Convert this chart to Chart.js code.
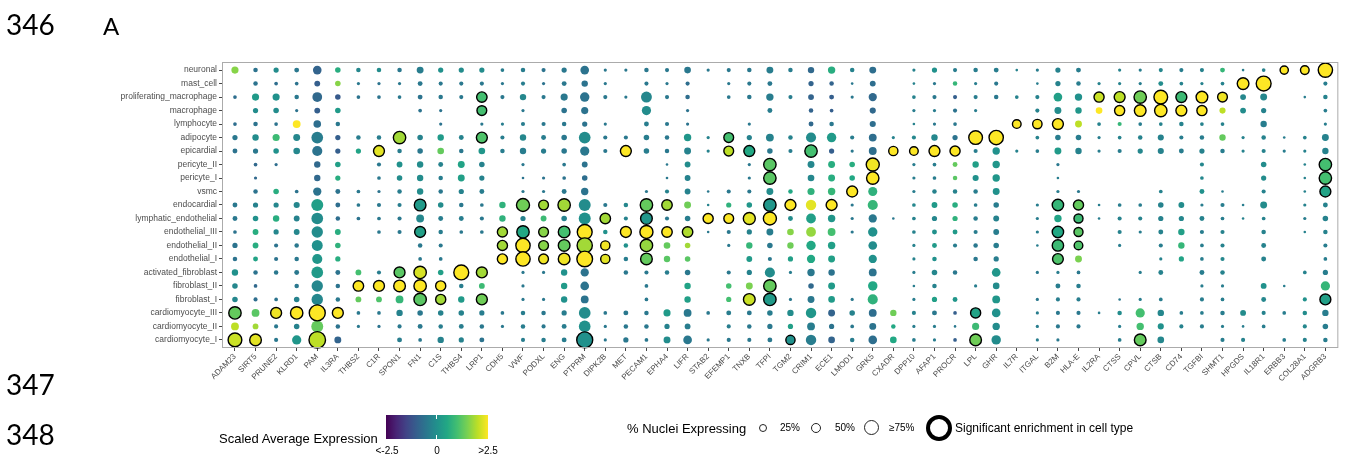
<!DOCTYPE html>
<html>
<head>
<meta charset="utf-8">
<script src="https://cdn.jsdelivr.net/npm/chart.js@4.4.1/dist/chart.umd.min.js"></script>
<style>
  body { margin: 0; background: #fff; width: 1348px; height: 455px; overflow: hidden; position: relative;
         font-family: 'Liberation Sans', Arial, sans-serif; }
  #wrap { position: absolute; left: 0; top: 0; width: 1348px; height: 455px; }
  .t { position: absolute; white-space: nowrap; color: #000; line-height: 1; }
  .num { font-family: Lato, 'Open Sans', sans-serif; font-size: 28px; }
  .lg { font-size: 13px; line-height: 13px; }
  .sm { font-size: 10px; line-height: 10px; }
  .ring { position: absolute; border: 1px solid #222; border-radius: 50%; box-sizing: border-box; }
  #bar { position: absolute; left: 386px; top: 415px; width: 102px; height: 24px; }
  .wtick { position: absolute; left: 50px; width: 1px; height: 4px; background: #fff; }
</style>
</head>
<body>
<div id="wrap"><canvas id="dotplot" width="1348" height="455"></canvas></div>

<div class="t num" style="left:6px;top:10px;">346</div>
<div class="t" style="left:103px;top:14px;font-family:Lato,'Open Sans',sans-serif;font-size:24px;">A</div>
<div class="t num" style="left:6px;top:370px;">347</div>
<div class="t num" style="left:6px;top:420px;">348</div>

<div class="t lg" style="left:219px;top:432px;">Scaled Average Expression</div>
<div id="bar"><div class="wtick" style="top:0"></div><div class="wtick" style="bottom:0"></div></div>
<div class="t sm" style="left:387px;top:446px;transform:translateX(-50%);">&lt;-2.5</div>
<div class="t sm" style="left:437px;top:446px;transform:translateX(-50%);">0</div>
<div class="t sm" style="left:488px;top:446px;transform:translateX(-50%);">&gt;2.5</div>

<div class="t lg" style="left:627px;top:422px;">% Nuclei Expressing</div>
<div class="ring" style="left:759px;top:424px;width:8px;height:8px;"></div>
<div class="t sm" style="left:780px;top:423px;">25%</div>
<div class="ring" style="left:811px;top:423px;width:10px;height:10px;"></div>
<div class="t sm" style="left:835px;top:423px;">50%</div>
<div class="ring" style="left:864px;top:420px;width:15px;height:15px;"></div>
<div class="t sm" style="left:889px;top:423px;">≥75%</div>
<div class="ring" style="left:926px;top:415px;width:26px;height:26px;border:4px solid #000;"></div>
<div class="t" style="left:955px;top:422px;font-size:12px;line-height:12px;">Significant enrichment in cell type</div>

<script>
const genes = ['ADAM23','SIRT5','PRUNE2','KLRD1','PAM','IL3RA','THBS2','C1R','SPON1','FN1',
  'C1S','THBS4','LRP1','CDH5','VWF','PODXL','ENG','PTPRM','DIPK2B','MET',
  'PECAM1','EPHA4','LIFR','STAB2','EFEMP1','TNXB','TFPI','TGM2','CRIM1','ECE1',
  'LMOD1','GRK5','CXADR','DPP10','AFAP1','PROCR','LPL','GHR','IL7R','ITGAL',
  'B2M','HLA-E','IL2RA','CTSS','CPVL','CTSB','CD74','TGFBI','SHMT1','HPGDS',
  'IL18R1','ERBB3','COL28A1','ADGRB3'];

// top to bottom
const cellTypes = ['neuronal','mast_cell','proliferating_macrophage','macrophage','lymphocyte',
  'adipocyte','epicardial','pericyte_II','pericyte_I','vsmc',
  'endocardial','lymphatic_endothelial','endothelial_III','endothelial_II','endothelial_I',
  'activated_fibroblast','fibroblast_II','fibroblast_I',
  'cardiomyocyte_III','cardiomyocyte_II','cardiomyocyte_I'];

// % nuclei expressing, one row per gene, values in cellTypes order (0 = not drawn)
const pctExpressing = [
  [15,0,4,0,4, 8,7,0,0,0, 7,7,4,8,6, 12,9,9, 45,18,55],
  [6,6,15,8,6, 12,8,4,3,6, 8,9,10,10,7, 6,4,5, 18,10,40],
  [8,4,15,9,4, 15,9,3,0,9, 8,12,8,5,5, 6,0,4, 35,5,5],
  [7,4,6,3,18, 14,13,0,0,4, 11,10,10,6,6, 7,6,9, 45,9,25],
  [22,10,28,10,17, 40,30,12,12,20, 42,40,38,35,30, 40,38,38, 75,42,80],
  [9,9,9,9,6, 8,8,9,8,7, 7,6,10,9,8, 7,6,6, 35,6,14],
  [6,3,4,0,0, 6,8,0,0,4, 4,4,0,0,0, 10,32,10, 4,3,0],
  [6,3,4,0,0, 6,35,5,4,3, 5,4,4,0,0, 5,35,10, 4,3,0],
  [6,3,4,0,0, 45,6,10,9,6, 5,5,5,0,0, 35,40,18, 12,5,7],
  [14,7,7,4,0, 9,9,12,12,12, 40,18,35,6,4, 45,45,45, 9,7,4],
  [8,5,6,3,3, 12,13,7,6,6, 9,7,6,5,4, 9,30,30, 9,6,12],
  [8,5,5,0,0, 7,6,14,14,8, 6,7,4,0,0, 65,6,12, 9,7,8],
  [8,5,32,28,3, 35,13,9,8,7, 4,5,4,0,0, 35,10,35, 8,6,7],
  [4,3,5,0,3, 5,6,0,0,0, 12,12,30,30,30, 0,0,0, 4,3,0],
  [6,5,12,3,5, 12,12,3,2,3, 50,8,45,60,60, 3,3,3, 6,6,5],
  [5,3,5,0,5, 7,8,0,3,3, 28,10,28,28,28, 3,0,3, 6,5,6],
  [8,7,15,9,6, 9,9,4,4,7, 45,9,40,40,40, 12,12,12, 8,7,7],
  [22,12,26,15,8, 40,25,10,9,16, 42,42,65,68,72, 20,22,18, 40,40,75],
  [3,3,5,0,3, 5,5,0,0,0, 5,32,6,25,25, 0,0,0, 4,3,3],
  [3,0,3,0,0, 5,35,0,0,0, 6,5,35,6,6, 6,0,0, 7,6,8],
  [6,5,35,25,7, 9,9,0,0,3, 45,40,50,45,40, 5,4,4, 6,6,4],
  [5,3,5,0,5, 6,6,2,2,5, 32,5,32,13,12, 6,0,0, 15,8,14],
  [13,5,6,3,3, 16,14,10,10,10, 14,9,32,9,9, 9,12,12, 18,10,22],
  [3,0,0,0,0, 3,3,0,0,2, 2,30,2,0,0, 0,0,0, 4,0,3],
  [5,3,4,0,0, 28,28,0,0,5, 8,28,5,3,0, 5,9,8, 7,5,5],
  [6,5,6,0,3, 8,35,3,3,5, 9,42,8,12,10, 8,14,40, 7,6,5],
  [14,7,16,7,0, 18,9,45,45,14, 45,50,14,9,5, 30,45,45, 9,8,7],
  [6,0,5,0,0, 6,5,0,0,6, 35,7,13,12,8, 3,0,3, 12,8,25],
  [12,8,10,6,7, 30,45,14,13,15, 32,28,28,26,20, 16,9,14, 32,18,32],
  [16,6,7,4,6, 26,8,14,14,16, 35,16,18,16,14, 12,14,13, 14,8,13],
  [6,2,3,0,0, 5,3,9,9,35, 3,3,3,0,0, 0,0,3, 9,4,6],
  [14,10,20,11,11, 18,18,50,45,24, 30,20,26,22,20, 18,26,30, 18,14,22],
  [0,0,0,0,0, 3,25,0,0,0, 0,2,0,0,0, 0,0,0, 12,6,13],
  [3,2,4,3,2, 5,22,3,3,3, 4,4,4,3,3, 3,2,3, 5,3,4],
  [8,3,5,3,3, 12,35,4,4,6, 10,8,7,7,6, 9,6,8, 7,3,3],
  [5,6,5,5,4, 8,30,7,6,6, 9,8,7,5,0, 6,0,7, 4,2,4],
  [6,3,5,3,0, 55,5,12,11,6, 4,6,5,6,6, 0,3,0, 30,15,40],
  [7,5,6,0,0, 60,16,16,16,14, 9,10,10,9,8, 22,13,18, 22,16,26],
  [2,0,4,0,22, 0,3,0,0,0, 0,0,0,0,0, 0,0,0, 0,0,0],
  [3,2,5,5,26, 4,4,0,0,0, 3,3,3,2,0, 3,0,3, 3,3,3],
  [8,8,22,14,35, 9,14,3,2,3, 38,16,38,38,34, 3,7,5, 5,5,3],
  [7,6,16,12,14, 9,12,0,0,3, 30,24,24,22,14, 4,6,5, 5,5,0],
  [0,3,30,13,4, 3,3,0,0,0, 2,2,0,0,0, 0,0,0, 2,0,0],
  [3,3,35,30,5, 4,5,0,0,0, 4,5,5,3,0, 0,0,2, 6,3,4],
  [3,3,45,40,4, 6,8,0,0,0, 4,5,3,0,0, 3,0,3, 25,16,40],
  [5,7,55,45,4, 11,11,0,0,4, 9,8,7,5,3, 7,0,4, 12,11,13],
  [5,4,35,35,6, 5,7,0,0,0, 10,8,12,12,8, 0,0,0, 4,5,0],
  [5,3,40,30,4, 6,8,5,4,7, 3,7,5,4,4, 7,3,5, 4,5,0],
  [7,4,28,11,4, 12,6,0,0,2, 5,4,5,5,5, 6,3,4, 6,3,5],
  [2,40,10,10,0, 3,3,0,0,0, 2,2,0,0,0, 0,0,0, 10,2,5],
  [4,65,14,8,12, 6,5,9,8,5, 14,4,6,7,7, 0,10,7, 5,4,0],
  [20,0,0,0,0, 2,3,0,0,0, 0,0,0,0,0, 0,2,0, 4,0,4],
  [22,0,2,0,0, 4,3,2,2,2, 3,3,2,0,0, 4,0,5, 6,5,5],
  [60,5,6,4,3, 14,12,45,45,35, 7,9,6,5,4, 8,25,35, 12,9,6]
];

// scaled average expression, same layout
const scaledExpression = [
  [1.6,0,-0.7,0,-0.7, -0.5,-0.6,0,0,0, -0.5,-0.5,-0.6,-0.6,-0.6, 0,-0.2,-0.2, 1.3,2.0,2.1],
  [-0.6,-0.6,0.2,-0.1,-0.6, -0.1,-0.5,-0.8,-0.8,-0.6, -0.3,0,0.6,0.6,0.4, -0.6,-0.8,-0.7, 1.2,1.8,2.3],
  [-0.1,-0.7,0,-0.1,-0.6, 0.9,0,-0.7,0,0.6, -0.2,0.6,-0.2,-0.6,-0.6, -0.5,0,-0.6, 2.4,-0.5,-0.5],
  [-0.5,-0.6,-0.5,-0.6,2.5, -0.2,-0.2,0,0,-0.6, -0.2,-0.3,-0.2,-0.5,-0.5, -0.5,-0.5,-0.3, 2.5,-0.3,0.1],
  [-0.9,-1.0,-0.8,-1.0,-0.7, -0.4,-0.6,-0.8,-0.8,-0.6, 0.3,-0.1,-0.1,0,0.1, 0.2,-0.2,-0.2, 2.5,1.3,2.0],
  [0.6,1.6,-1.1,0.2,-0.5, -1.0,-1.0,0.3,0.6,-0.6, -0.7,-0.7,0.6,0.7,0.6, -0.6,-0.6,-0.5, 2.5,-0.6,-0.9],
  [-0.2,-0.5,-0.6,0,0, -0.4,0.4,0,0,-0.5, -0.5,-0.6,0,0,0, 1.0,2.5,1.3, -0.5,-0.5,0],
  [-0.1,-0.6,-0.6,0,0, -0.4,2.3,-0.5,-0.5,-0.6, -0.5,-0.5,-0.5,0,0, -0.4,2.5,1.1, -0.5,-0.6,0],
  [-0.5,-0.5,-0.5,0,0, 1.8,-0.4,0,-0.1,-0.4, -0.4,-0.5,-0.5,0,0, 1.2,2.5,0.8, -0.3,-0.5,-0.4],
  [-0.4,-0.5,-0.6,-0.6,0, -0.3,-0.5,-0.1,-0.1,-0.1, 0.2,-0.2,0.3,-0.5,-0.5, 2.2,2.5,1.2, -0.5,-0.5,-0.5],
  [0,-0.5,-0.5,-0.6,-0.6, 0.2,1.3,-0.3,-0.4,-0.5, -0.1,-0.4,-0.4,-0.5,-0.5, 0.3,2.5,1.8, -0.3,-0.4,-0.3],
  [-0.1,-0.5,-0.5,0,0, -0.3,-0.5,0.4,0.3,-0.3, -0.5,-0.4,-0.5,0,0, 2.5,-0.4,0.2, -0.3,-0.4,-0.3],
  [-0.1,-0.5,1.0,1.0,-0.5, 1.1,0.1,-0.3,-0.3,-0.4, -0.5,-0.5,-0.5,0,0, 1.8,0.9,1.4, -0.4,-0.5,-0.6],
  [-0.4,-0.5,-0.5,0,-0.4, -0.4,-0.4,0,0,0, 0.7,0.7,1.8,1.8,2.5, 0,0,0, -0.5,-0.5,0],
  [-0.4,-0.4,-0.2,-0.5,-0.4, -0.2,-0.4,-0.5,-0.6,-0.5, 1.4,-0.3,0.5,2.5,2.5, -0.5,-0.5,-0.5, -0.4,-0.4,-0.4],
  [-0.6,-0.6,-0.5,0,-0.5, -0.4,-0.4,0,-0.6,-0.5, 1.8,0.9,1.6,1.6,2.4, -0.5,0,-0.5, -0.5,-0.5,-0.4],
  [-0.5,-0.5,-0.5,-0.6,-0.5, -0.5,-0.5,-0.5,-0.6,-0.5, 1.8,-0.3,1.0,1.3,2.4, 0,0.2,0, -0.4,-0.4,-0.4],
  [-0.6,-0.6,-0.6,-0.6,-0.6, -0.1,-0.5,-0.6,-0.7,-0.6, -0.1,0,2.5,1.8,2.5, -0.6,-0.6,-0.6, -0.1,0,0],
  [-0.5,-0.5,-0.5,0,-0.5, -0.5,-0.5,0,0,0, -0.5,1.8,0,2.4,2.3, 0,0,0, -0.5,-0.5,-0.5],
  [-0.5,0,-0.5,0,0, -0.5,2.5,0,0,0, -0.2,-0.3,2.5,0,-0.4, -0.5,0,0, -0.5,-0.5,-0.5],
  [-0.5,-0.5,-0.2,-0.1,-0.4, -0.4,-0.4,0,0,-0.5, 1.3,0.1,2.5,1.7,1.3, -0.5,-0.5,-0.5, -0.5,-0.5,-0.5],
  [-0.5,-0.5,-0.5,0,-0.5, -0.5,-0.5,-0.5,-0.5,-0.3, 1.8,-0.5,2.5,1.3,1.2, -0.4,0,0, 0.2,-0.3,-0.1],
  [-0.5,-0.7,-0.7,-0.6,-0.6, 0.1,-0.3,-0.1,-0.3,-0.3, 1.4,-0.4,1.9,1.8,1.2, -0.5,0.4,0.3, -0.5,-0.4,-0.5],
  [-0.5,0,0,0,0, -0.3,-0.3,0,0,-0.5, -0.3,2.5,-0.5,0,0, 0,0,0, -0.5,0,-0.5],
  [-0.5,-0.5,-0.5,0,0, 1.0,2.0,0,0,-0.5, 0.7,2.5,-0.5,-0.5,0, -0.5,1.0,1.0, -0.4,-0.4,-0.5],
  [-0.5,-0.5,-0.5,0,-0.5, -0.3,0.5,-0.5,-0.5,-0.5, 0.1,2.3,-0.3,0.8,0.2, -0.3,1.5,2.1, -0.5,-0.5,-0.5],
  [-0.4,-0.5,-0.4,-0.4,0, -0.3,-0.5,1.2,1.2,-0.1, 0.1,2.5,-0.4,-0.5,-0.5, -0.1,1.3,0.2, -0.4,-0.5,-0.5],
  [-0.4,0,-0.4,0,0, -0.3,-0.4,0,0,0.5, 2.5,-0.1,1.6,1.4,0.3, -0.4,0,-0.5, -0.1,0.3,0],
  [-0.8,-0.9,-0.9,-0.9,-0.8, -0.1,1.0,-0.2,-0.2,0.7, 2.3,0.3,1.7,0.5,0.5, -0.5,-0.8,-0.5, 0.1,-0.4,-0.4],
  [0.6,-0.9,-1.0,-1.0,-0.5, 0.2,-1.0,0.6,0.6,0.8, 2.5,0.1,1.0,0.3,0.3, -0.6,0.2,0.2, -0.9,-0.6,-0.9],
  [-0.3,-0.5,-0.5,0,0, -0.4,-0.5,0.6,0.5,2.5, -0.5,-0.5,-0.5,0,0, 0,0,-0.5, -0.3,-0.5,-0.4],
  [-0.7,-0.7,-0.8,-0.8,-0.7, -0.7,-0.7,2.4,2.5,0.7, 0.8,-0.5,0,-0.1,0, -0.6,0.5,0.7, -0.7,-0.6,-0.7],
  [0,0,0,0,0, -0.3,2.5,0,0,0, 0,-0.5,0,0,0, 0,0,0, 1.4,0.5,0.5],
  [-0.3,-0.3,-0.3,-0.4,-0.3, -0.2,2.5,-0.4,-0.4,-0.4, -0.2,-0.3,-0.3,-0.3,-0.3, -0.4,-0.4,-0.4, -0.3,-0.4,-0.4],
  [0,-0.5,-0.5,-0.4,-0.5, -0.2,2.5,-0.4,-0.4,-0.3, 0.2,-0.2,0,0.2,0, -0.2,-0.3,0.3, -0.5,-0.4,-0.4],
  [-0.4,0.8,-1.0,-0.6,-0.5, -0.6,2.5,1.3,1.2,-0.3, 0.6,0.7,0.2,-0.4,0, -0.5,0,0.1, -1.0,-0.5,-1.0],
  [-0.4,-0.4,-0.4,-0.4,0, 2.5,-0.4,0.3,0,-0.4, -0.4,-0.4,-0.4,-0.5,-0.5, 0,-0.4,0, 0.4,0.9,1.4],
  [-0.4,-0.5,-0.5,0,0, 2.5,0,0.1,0.1,0, -0.4,-0.3,-0.4,-0.4,-0.4, 0.1,-0.1,0.1, 0,-0.1,-0.1],
  [-0.3,0,-0.3,0,2.5, 0,-0.3,0,0,0, 0,0,0,0,0, 0,0,0, 0,0,0],
  [-0.4,-0.4,-0.3,-0.3,2.5, -0.3,-0.4,0,0,0, -0.4,-0.4,-0.4,-0.4,0, -0.5,0,-0.5, -0.4,-0.4,-0.4],
  [-0.3,-0.3,0.3,-0.1,2.5, -0.4,0.2,-0.5,-0.4,-0.4, 0.8,0.4,0.5,0.9,1.1, -0.4,-0.4,-0.4, -0.5,-0.5,-0.5],
  [-0.4,-0.4,0,0.1,2.0, -0.4,-0.3,0,0,-0.5, 1.3,0.9,1.2,1.1,1.5, -0.5,-0.4,-0.4, -0.5,-0.5,0],
  [0,-0.3,2.1,2.5,-0.3, -0.4,-0.4,0,0,0, -0.4,-0.4,0,0,0, 0,0,0, -0.4,0,0],
  [-0.3,-0.3,2.0,2.5,0.8, -0.3,-0.4,0,0,0, -0.4,-0.3,-0.3,-0.4,0, 0,0,-0.5, -0.1,-0.4,-0.4],
  [-0.4,-0.4,1.4,2.5,-0.4, -0.3,-0.2,0,0,0, -0.4,-0.3,-0.4,0,0, -0.4,0,-0.4, 1.0,1.0,1.3],
  [-0.2,-0.1,2.5,2.5,-0.3, -0.3,-0.3,0,0,-0.3, -0.3,-0.3,-0.3,-0.4,-0.3, -0.3,0,-0.4, -0.2,0,-0.2],
  [-0.4,-0.3,0.9,2.5,-0.3, -0.4,-0.4,0,0,0, -0.1,-0.2,0.3,0.8,0.4, 0,0,0, -0.4,-0.3,0],
  [-0.3,-0.3,2.5,2.5,-0.3, -0.4,-0.3,-0.2,-0.2,0, -0.4,-0.3,-0.4,-0.4,-0.4, -0.4,-0.4,-0.4, -0.4,-0.4,0],
  [0.8,-0.3,2.4,2.0,-0.3, 1.3,-0.4,0,0,-0.4, -0.4,-0.4,-0.3,-0.3,-0.2, -0.3,-0.4,-0.4, -0.4,-0.4,-0.4],
  [-0.4,2.5,-0.2,-0.1,0, -0.3,-0.3,0,0,0, -0.4,-0.3,0,0,0, 0,0,0, -0.1,-0.4,-0.3],
  [-0.3,2.5,-0.2,-0.3,-0.4, -0.3,-0.3,-0.1,-0.1,-0.3, -0.1,-0.3,-0.3,-0.3,-0.3, 0,0,-0.2, -0.3,-0.4,0],
  [2.5,0,0,0,0, -0.4,-0.4,0,0,0, 0,0,0,0,0, 0,-0.4,0, -0.4,0,-0.4],
  [2.5,0,-0.4,0,0, -0.3,-0.3,-0.3,-0.3,-0.3, -0.3,-0.4,-0.3,0,0, -0.3,0,0, -0.1,-0.2,-0.3],
  [2.5,-0.4,-0.3,-0.4,-0.4, -0.3,-0.3,1.0,1.0,0.4, -0.3,-0.3,-0.3,-0.4,-0.4, -0.4,0.8,0.3, -0.4,-0.4,-0.4]
];

// gene / cell type pairs with significant enrichment (black ring)
const significant = [
  ['ADAM23','cardiomyocyte_III'],['ADAM23','cardiomyocyte_I'],['SIRT5','cardiomyocyte_I'],
  ['PRUNE2','cardiomyocyte_III'],['KLRD1','cardiomyocyte_III'],['PAM','cardiomyocyte_III'],
  ['PAM','cardiomyocyte_I'],['IL3RA','cardiomyocyte_III'],['THBS2','fibroblast_II'],
  ['C1R','epicardial'],['C1R','fibroblast_II'],
  ['SPON1','adipocyte'],['SPON1','activated_fibroblast'],['SPON1','fibroblast_II'],
  ['FN1','endocardial'],['FN1','endothelial_III'],['FN1','activated_fibroblast'],['FN1','fibroblast_II'],['FN1','fibroblast_I'],
  ['C1S','fibroblast_II'],['C1S','fibroblast_I'],['THBS4','activated_fibroblast'],
  ['LRP1','proliferating_macrophage'],['LRP1','macrophage'],['LRP1','adipocyte'],['LRP1','activated_fibroblast'],['LRP1','fibroblast_I'],
  ['CDH5','endothelial_III'],['CDH5','endothelial_II'],['CDH5','endothelial_I'],
  ['VWF','endocardial'],['VWF','endothelial_III'],['VWF','endothelial_II'],['VWF','endothelial_I'],
  ['PODXL','endocardial'],['PODXL','endothelial_III'],['PODXL','endothelial_II'],['PODXL','endothelial_I'],
  ['ENG','endocardial'],['ENG','endothelial_III'],['ENG','endothelial_II'],['ENG','endothelial_I'],
  ['PTPRM','endothelial_III'],['PTPRM','endothelial_II'],['PTPRM','endothelial_I'],['PTPRM','cardiomyocyte_I'],
  ['DIPK2B','lymphatic_endothelial'],['DIPK2B','endothelial_II'],['DIPK2B','endothelial_I'],
  ['MET','epicardial'],['MET','endothelial_III'],
  ['PECAM1','endocardial'],['PECAM1','lymphatic_endothelial'],['PECAM1','endothelial_III'],['PECAM1','endothelial_II'],['PECAM1','endothelial_I'],
  ['EPHA4','endocardial'],['EPHA4','endothelial_III'],['LIFR','endothelial_III'],['STAB2','lymphatic_endothelial'],
  ['EFEMP1','adipocyte'],['EFEMP1','epicardial'],['EFEMP1','lymphatic_endothelial'],
  ['TNXB','epicardial'],['TNXB','lymphatic_endothelial'],['TNXB','fibroblast_I'],
  ['TFPI','pericyte_II'],['TFPI','pericyte_I'],['TFPI','endocardial'],['TFPI','lymphatic_endothelial'],['TFPI','fibroblast_II'],['TFPI','fibroblast_I'],
  ['TGM2','endocardial'],['TGM2','cardiomyocyte_I'],['CRIM1','epicardial'],['ECE1','endocardial'],
  ['LMOD1','vsmc'],['GRK5','pericyte_II'],['GRK5','pericyte_I'],
  ['CXADR','epicardial'],['DPP10','epicardial'],['AFAP1','epicardial'],['PROCR','epicardial'],
  ['LPL','adipocyte'],['LPL','cardiomyocyte_III'],['LPL','cardiomyocyte_I'],['GHR','adipocyte'],
  ['IL7R','lymphocyte'],['ITGAL','lymphocyte'],
  ['B2M','lymphocyte'],['B2M','endocardial'],['B2M','endothelial_III'],['B2M','endothelial_II'],['B2M','endothelial_I'],
  ['HLA-E','endocardial'],['HLA-E','lymphatic_endothelial'],['HLA-E','endothelial_III'],['HLA-E','endothelial_II'],
  ['IL2RA','proliferating_macrophage'],
  ['CTSS','proliferating_macrophage'],['CTSS','macrophage'],
  ['CPVL','proliferating_macrophage'],['CPVL','macrophage'],['CPVL','cardiomyocyte_I'],
  ['CTSB','proliferating_macrophage'],['CTSB','macrophage'],
  ['CD74','proliferating_macrophage'],['CD74','macrophage'],
  ['TGFBI','proliferating_macrophage'],['TGFBI','macrophage'],
  ['SHMT1','proliferating_macrophage'],['HPGDS','mast_cell'],['IL18R1','mast_cell'],
  ['ERBB3','neuronal'],['COL28A1','neuronal'],
  ['ADGRB3','neuronal'],['ADGRB3','pericyte_II'],['ADGRB3','pericyte_I'],['ADGRB3','vsmc'],['ADGRB3','fibroblast_I']
];

const viridisStops = ['#440154','#482475','#414487','#355f8d','#2a788e','#21918c',
  '#22a884','#44bf70','#7ad151','#bddf26','#fde725'];

function hexToRgb(h) {
  return [parseInt(h.slice(1, 3), 16), parseInt(h.slice(3, 5), 16), parseInt(h.slice(5, 7), 16)];
}

function viridis(v) {
  let t = (v + 2.5) / 5;
  t = Math.max(0, Math.min(1, t));
  const pos = t * (viridisStops.length - 1);
  const i = Math.min(Math.floor(pos), viridisStops.length - 2);
  const f = pos - i;
  const a = hexToRgb(viridisStops[i]), b = hexToRgb(viridisStops[i + 1]);
  const c = a.map((x, k) => Math.round(x + (b[k] - x) * f));
  return `rgb(${c[0]},${c[1]},${c[2]})`;
}

// area-proportional dot size, largest dots ~8px radius
function dotRadius(pct) {
  return Math.max(1.2, 8 * Math.sqrt(Math.min(pct, 80) / 75));
}

document.getElementById('bar').style.background =
  'linear-gradient(to right,' + viridisStops.join(',') + ')';

const sigSet = new Set(significant.map(p => p[0] + '|' + p[1]));
const plainPoints = [];
const sigPoints = [];
genes.forEach((g, gi) => {
  cellTypes.forEach((c, ci) => {
    const pct = pctExpressing[gi][ci];
    if (!pct) return;
    const pt = { x: gi, y: ci, r: dotRadius(pct), v: scaledExpression[gi][ci] };
    if (sigSet.has(g + '|' + c)) sigPoints.push(pt); else plainPoints.push(pt);
  });
});

const panelBorder = {
  id: 'panelBorder',
  afterDraw(chart) {
    const { ctx, chartArea: a } = chart;
    ctx.save();
    ctx.strokeStyle = '#ababab';
    ctx.lineWidth = 1;
    ctx.strokeRect(a.left + 0.5, a.top + 0.5, a.width - 1, a.height - 1);
    ctx.restore();
  }
};

Chart.defaults.font.family = "'Liberation Sans', Arial, sans-serif";

new Chart(document.getElementById('dotplot'), {
  type: 'bubble',
  data: {
    datasets: [
      {
        data: sigPoints,
        backgroundColor: ctx => viridis(ctx.raw.v),
        borderColor: '#000',
        borderWidth: 1.4,
        clip: false
      },
      {
        data: plainPoints,
        backgroundColor: ctx => viridis(ctx.raw.v),
        borderWidth: 0,
        clip: false
      }
    ]
  },
  options: {
    responsive: false,
    animation: false,
    events: [],
    layout: { padding: { left: 0, top: 62, right: 3, bottom: 0 } },
    plugins: { legend: { display: false }, tooltip: { enabled: false } },
    scales: {
      x: {
        type: 'linear',
        min: -0.63,
        max: 53.63,
        afterBuildTicks: scale => { scale.ticks = genes.map((g, i) => ({ value: i })); },
        afterFit: scale => { scale.height = 107; },
        ticks: {
          autoSkip: false,
          minRotation: 45,
          maxRotation: 45,
          padding: 1,
          color: '#4d4d4d',
          font: { size: 8 },
          callback: v => genes[v]
        },
        grid: { drawOnChartArea: false, tickLength: 3, color: '#444' },
        border: { display: false }
      },
      y: {
        type: 'linear',
        reverse: true,
        min: -0.6,
        max: 20.6,
        afterBuildTicks: scale => { scale.ticks = cellTypes.map((c, i) => ({ value: i })); },
        afterFit: scale => { scale.width = 222; },
        ticks: {
          autoSkip: false,
          padding: 2,
          color: '#4d4d4d',
          font: { size: 8.5 },
          callback: v => cellTypes[v]
        },
        grid: { drawOnChartArea: false, tickLength: 3, color: '#444' },
        border: { display: false }
      }
    }
  },
  plugins: [panelBorder]
});
</script>
</body>
</html>
